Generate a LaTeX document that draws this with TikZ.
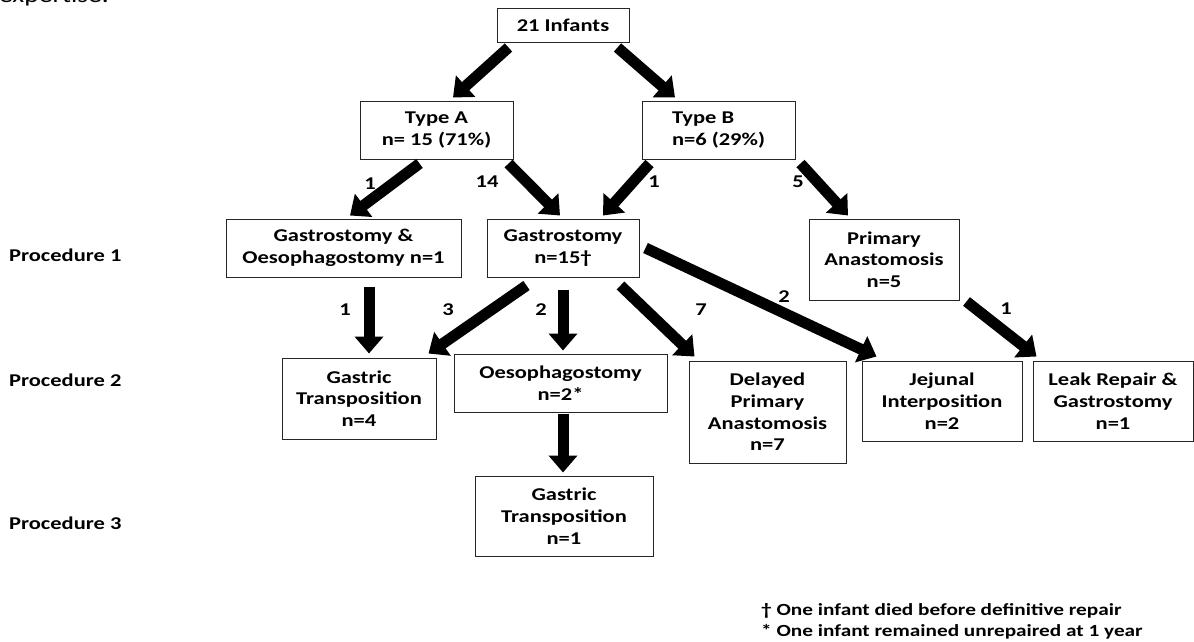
\documentclass[tikz,border=0pt]{standalone}
\usepackage{fontspec}
\setmainfont{Carlito}[FakeStretch=1.25]
\usetikzlibrary{arrows.meta}
\begin{document}
\begin{tikzpicture}[x=1pt,y=-1pt,
  font=\bfseries\fontsize{18}{21.7}\selectfont,
  box/.style={draw=black!85,line width=1pt,align=center,inner sep=0pt},
  arr/.style={line width=11pt,-{Triangle[length=17pt,width=28pt]}},
  num/.style={inner sep=0pt},
  proc/.style={anchor=west,inner sep=0pt},
  foot/.style={anchor=west,inner sep=0pt,font=\bfseries\fontsize{17}{20}\selectfont}]
\useasboundingbox (0,0) rectangle (1194,641);
% cut-off text at top
\node[anchor=base west,inner sep=0pt,font=\fontsize{22}{26}\selectfont] (cut) at (-1,2) {expertise.};
% boxes
\node[box,minimum width=132pt,minimum height=34pt] (inf) at (563,25) {21 Infants};
\node[box,minimum width=153pt,minimum height=58pt] (ta) at (436.5,130) {Type A\\n= 15 (71\%)};
\node[box,minimum width=153pt,minimum height=58pt,align=left] (tb) at (718.5,130) {Type B\\n=6 (29\%)};
\node[box,minimum width=235pt,minimum height=58pt] (go) at (343.5,248) {Gastrostomy \&\\Oesophagostomy n=1};
\node[box,minimum width=152pt,minimum height=58pt] (g) at (563,248) {Gastrostomy\\n=15\textdagger};
\node[box,minimum width=150pt,minimum height=81pt] (pa) at (884,259.5) {Primary\\Anastomosis\\n=5};
\node[box,minimum width=154pt,minimum height=81pt] (gt4) at (359,398.5) {Gastric\\Transposition\\n=4};
\node[box,minimum width=213pt,minimum height=58pt] (oe) at (560.5,383) {Oesophagostomy\\n=2*};
\node[box,minimum width=157pt,minimum height=102pt] (dpa) at (767.5,412) {Delayed\\Primary\\Anastomosis\\n=7};
\node[box,minimum width=160pt,minimum height=80pt] (ji) at (942,401) {Jejunal\\Interposition\\n=2};
\node[box,minimum width=160pt,minimum height=80pt] (lr) at (1113,401) {Leak Repair \&\\Gastrostomy\\n=1};
\node[box,minimum width=178pt,minimum height=80pt] (gt1) at (564,516) {Gastric\\Transposition\\n=1};
% procedure labels
\node[proc] (p1) at (9,255) {Procedure 1};
\node[proc] (p2) at (9,380) {Procedure 2};
\node[proc] (p3) at (9,523) {Procedure 3};
% arrows
\draw[arr] ([shift={(12,5)}]inf.south west) -- ([shift={(16.5,-3)}]ta.north);
\draw[arr] ([shift={(-12,5)}]inf.south east) -- ([shift={(-43.5,-3)}]tb.north);
\draw[arr] ([shift={(60,4)}]ta.south west) -- ([shift={(6.5,-3)}]go.north);
\draw[arr] ([shift={(-5,4)}]ta.south east) -- ([shift={(-3,-3)}]g.north);
\draw[arr] ([shift={(8,4)}]tb.south west) -- ([shift={(40,-3)}]g.north);
\draw[arr] ([shift={(5,4)}]tb.south east) -- ([shift={(-36,-3)}]pa.north);
\draw[arr] ([shift={(25.5,9)}]go.south) -- ([shift={(10,-4)}]gt4.north);
\draw[arr] ([shift={(40,8)}]g.south west) -- ([shift={(-8,-4)}]gt4.north east);
\draw[arr] ([shift={(0,12)}]g.south) -- ([shift={(2.5,-3)}]oe.north);
\draw[arr] ([shift={(-19,8)}]g.south east) -- ([shift={(6,-4)}]dpa.north west);
\draw[arr] ([shift={(6,0)}]g.east) -- ([shift={(15,-4)}]ji.north west);
\draw[arr] ([shift={(7,1)}]pa.south east) -- ([shift={(4,-4)}]lr.north west);
\draw[arr] ([shift={(2.5,1)}]oe.south) -- ([shift={(-1,-3)}]gt1.north);
% arrow labels
\node[num] (l1) at (370,184) {1};
\node[num] (l2) at (487,182) {14};
\node[num] (l3) at (654,182) {1};
\node[num] (l4) at (798,182) {5};
\node[num] (l5) at (345,310) {1};
\node[num] (l6) at (448,310) {3};
\node[num] (l7) at (541,310) {2};
\node[num] (l8) at (701,310) {7};
\node[num] (l9) at (784,297) {2};
\node[num] (l10) at (1006,309) {1};
% footnotes
\node[foot] (f1) at (761,611) {\textdagger{} One infant died before definitive repair};
\node[foot] (f2) at (761,632) {* One infant remained unrepaired at 1 year};
\end{tikzpicture}
\end{document}
